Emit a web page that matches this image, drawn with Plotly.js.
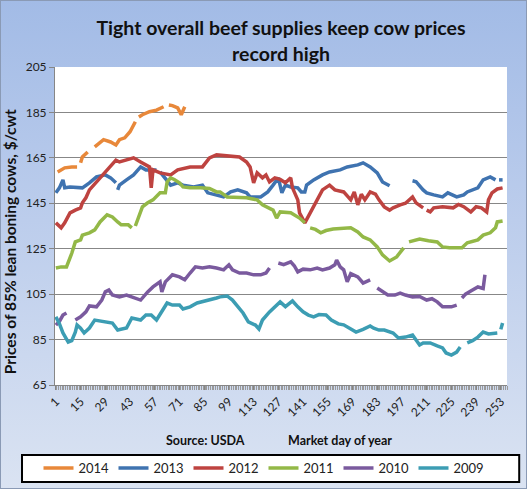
<!DOCTYPE html>
<html>
<head>
<meta charset="utf-8">
<script src="https://cdn.plot.ly/plotly-3.0.1.min.js"></script>
<style>
  html, body { margin: 0; padding: 0; }
  body { width: 527px; height: 489px; overflow: hidden;
         background: linear-gradient(to bottom, #a2bbe6 0%, #bccdec 45%, #dae3f2 100%); }
  #wrap { position: relative; width: 527px; height: 489px; }
  #chart { width: 527px; height: 489px; }
  #frame { position: absolute; left: 0; top: 0; width: 527px; height: 489px;
           box-sizing: border-box; border: 1px solid #8a9ab5; pointer-events: none; }
</style>
</head>
<body>
<div id="wrap"><div id="chart"></div><div id="frame"></div></div>
<script>
// ---- Data (market day of year, $/cwt); null = missing day (line break) ----
const days2014 = [2,6,10,13,null,15,16,19,null,23,26,28,32,35,37,40,43,46,null,48,50,54,58,62,null,65,67,70,72,74];
const vals2014 = [158.8,160.6,161,161,null,162.8,165.4,167.6,null,169.8,172,173,172,170.7,173,173.8,176.5,180.9,null,183,184,185.3,186,187.5,null,188.3,188,187,184,187.5];

const days2013 = [1,3,5,6,9,13,16,20,24,29,32,35,null,36,37,41,45,49,52,54,58,null,60,66,70,73,79,84,87,92,96,100,104,109,111,117,121,124,127,129,131,134,138,140,142,143,147,152,156,162,166,172,175,179,183,186,190,null,203,205,209,211,215,220,223,226,228,232,234,240,243,247,250,null,252,254];
const vals2013 = [149.6,151.8,155.3,151.8,152.2,151.8,151.8,154,156.6,157.5,156.2,154,null,150.9,153,155.3,157.5,161,159.7,159.7,159.7,null,158.8,153,154,153,152.2,153,149.6,148.7,147.8,150,150.9,149.6,147.8,147.8,150,153,156.2,149.6,153,152.2,151.8,150,150,153,155.3,157.5,158.8,159.7,161,161.9,162.8,161,158.4,154.4,152.7,null,154.9,154.5,150.9,149.6,148.7,147.8,149.6,148.7,147.8,148.7,150,151.8,155.3,156.6,155.3,null,155.3,155.3];

const days2012 = [1,4,6,9,12,15,16,18,20,24,28,32,35,37,41,45,49,52,54,55,56,60,66,70,72,77,84,88,92,98,105,109,111,113,115,118,120,122,125,128,131,134,135,138,139,142,145,148,149,152,156,159,164,168,170,172,174,176,179,182,184,187,190,192,196,199,203,205,209,null,211,213,215,220,226,229,232,236,239,242,245,246,248,251,254];
const vals2012 = [136.4,134.2,136.4,140.8,142,143,145.2,147.4,150.9,154.4,157.5,161,164,163.2,164,165,163.2,162,161,151.8,159.7,158.4,157.5,159.7,160,161,161,165,166.3,166,165.4,163.2,161,154,158.4,156.2,157.5,154.4,156.2,155.5,154,156.2,151.8,146.5,140.8,136.4,140.8,145.2,146.5,150.9,153,150.9,150,146.5,150,144.3,149,146.5,150,149,146.5,143.4,142,143,144.3,145,147.8,145.2,143,null,142,141.2,143,143.5,143,144.5,143.5,141.2,143.5,143,141.2,146.5,149.6,151.3,151.8];

const days2011 = [1,4,7,8,10,12,15,16,20,23,26,30,33,36,38,42,44,null,46,49,50,53,56,60,63,64,66,68,71,73,77,83,88,92,94,98,104,109,115,118,124,126,128,134,139,142,null,145,148,151,154,158,164,168,172,175,179,183,186,190,194,198,null,201,207,212,217,220,224,231,234,240,243,247,250,251,254];
const vals2011 = [116.5,117,117,118.7,123,128,128.9,131,132,133.3,136.8,139.9,139,136.8,135.5,135.5,134.2,null,135,140.8,143.4,145.2,146.5,149.6,149.6,154.4,156.2,155.5,154,152.2,151.8,151.8,151.5,150,150,147.8,147.4,147.4,146.5,144.3,142,138.5,141.2,140.8,138.5,136.4,null,134.2,133.5,132,133,133.7,134.2,134.2,132.4,130.2,128.9,125.8,122.3,119.6,121.4,125.4,null,128,129.3,128.5,128,125.8,125.4,125.4,127.6,128.9,131,132,134.2,136.8,137.2];

const days2010 = [1,3,5,7,null,12,15,18,20,24,27,29,31,33,37,41,45,49,53,56,60,61,63,67,71,74,77,80,84,88,92,96,99,101,105,109,113,117,120,122,null,127,130,134,136,138,141,145,149,152,156,159,160,162,164,166,168,172,175,179,null,183,186,189,193,196,199,203,207,211,214,217,220,225,228,null,231,233,236,240,242,243,244];
const vals2010 = [91.4,93,95.8,96.7,null,93.6,95,97.2,99.8,99.4,102.4,106,106.8,104.6,103.8,104.6,103.3,102.4,106,108.2,110.4,106,110.4,113.5,112.6,111.3,114.3,117,116.5,117,116.5,115.7,117.9,115.7,114.3,114.3,113.5,113.5,114.3,116.5,null,118.7,118,119.2,117.5,114.8,116,115.7,116.5,115.7,116.5,117.9,120,117,115.7,110.4,114,112.6,109.9,111.3,null,107.7,106,104.6,104.6,105.5,104.6,103.8,104,102.4,103,101.6,99.4,99.4,100.2,null,103.3,105,106.4,108.2,107.7,107.5,113.5];

const days2009 = [1,3,5,8,10,12,13,15,17,20,23,28,33,36,41,44,49,52,55,58,61,64,67,71,73,77,81,84,88,92,94,98,101,104,107,110,114,116,118,122,126,128,131,135,138,141,144,147,150,154,157,161,164,167,171,175,179,181,184,187,192,195,199,203,205,207,209,213,217,220,222,225,228,230,null,234,237,240,243,246,249,251,null,253,254];
const vals2009 = [95,92,87.9,83.9,84.5,88.3,91.4,90,87.9,90.1,93.6,92.8,92.3,89.2,90.1,94.5,93.6,95.8,95.8,93.6,97.2,101.1,100.2,100.2,98.5,99.4,101.1,101.6,102.4,103.3,103.8,104.2,102.4,99.4,96.7,92.8,91.4,89.7,93.6,97.2,100.2,101.6,99.5,102,99.4,97.2,95.8,95,96,95.8,93.6,91.9,91.5,90.1,88.3,89.5,91,90,89.2,89.2,87.9,85.7,86.1,87,84.8,82.6,83.5,83.5,82.2,81.3,79.1,78.2,79.5,81.7,null,83.5,84.5,86.1,88.3,87.5,87.9,87.9,null,89.5,92.3];

const seriesNames = ['2014','2013','2012','2011','2010','2009'];
const seriesColors = ['#E8883A','#3F73B0','#BE4340','#93B847','#7A5A9E','#3C9DB3'];
const xTickVals = [1,15,29,43,57,71,85,99,113,127,141,155,169,183,197,211,225,239,253];
const yTickVals = [65,85,105,125,145,165,185,205];

const allDays = [days2014, days2013, days2012, days2011, days2010, days2009];
const allVals = [vals2014, vals2013, vals2012, vals2011, vals2010, vals2009];

const font = 'Lato, "Open Sans", sans-serif';
const traces = seriesNames.map((n, i) => ({
  type: 'scatter', mode: 'lines', name: n,
  x: allDays[i], y: allVals[i], connectgaps: false,
  line: { color: seriesColors[i], width: 3.5 }
}));

const layout = {
  width: 527, height: 489,
  margin: { l: 55, r: 20, t: 67, b: 104 },
  paper_bgcolor: 'rgba(0,0,0,0)',
  plot_bgcolor: '#ffffff',
  font: { family: font, color: '#222', size: 11 },
  title: {
    text: 'Tight overall beef supplies keep cow prices<br>record high',
    font: { family: font, size: 19.5, weight: 'bold', color: '#111' },
    x: 0.5, xref: 'paper', xanchor: 'center',
    y: 0.928, yref: 'container', yanchor: 'middle'
  },
  xaxis: {
    range: [0.5, 256.5],
    tickmode: 'array', tickvals: xTickVals, ticktext: xTickVals.map(String),
    tickangle: -45, tickfont: { size: 12, family: font, color: '#222' },
    showgrid: false, zeroline: false,
    showline: true, linecolor: '#868686', linewidth: 1,
    ticks: 'outside', ticklen: 4, tickcolor: '#868686',
    minor: { dtick: 1, tick0: 0.5, ticks: 'outside', ticklen: 4, tickcolor: '#9a9a9a', showgrid: false }
  },
  yaxis: {
    range: [65, 205],
    tickmode: 'array', tickvals: yTickVals,
    tickfont: { size: 12, family: font, color: '#222' },
    showgrid: true, gridcolor: '#878787', gridwidth: 1, zeroline: false,
    showline: true, linecolor: '#868686', linewidth: 1,
    ticks: 'outside', ticklen: 5, tickcolor: '#868686'
  },
  annotations: [
    { text: 'Prices of 85% lean boning cows, $/cwt', xref: 'paper', yref: 'paper',
      x: -0.099, y: 0.45, textangle: -90, xanchor: 'center', yanchor: 'middle', showarrow: false,
      font: { family: font, size: 15.5, weight: 'bold', color: '#111' } },
    { text: 'Source: USDA', xref: 'paper', yref: 'paper', x: 0.332, y: -0.176,
      xanchor: 'center', yanchor: 'middle', showarrow: false,
      font: { family: font, size: 12.5, weight: 'bold', color: '#111' } },
    { text: 'Market day of year', xref: 'paper', yref: 'paper', x: 0.631, y: -0.176,
      xanchor: 'center', yanchor: 'middle', showarrow: false,
      font: { family: font, size: 12.5, weight: 'bold', color: '#111' } }
  ],
  shapes: [
    { type: 'rect', xref: 'paper', yref: 'paper', layer: 'above',
      x0: -0.073, x1: 1.027, y0: -0.305, y1: -0.220,
      fillcolor: 'rgba(255,255,255,1)', line: { color: '#000000', width: 2 } }
  ],
  showlegend: true,
  legend: {
    orientation: 'h', xref: 'container', yref: 'container',
    x: 0.5, xanchor: 'center', y: 0.043, yanchor: 'middle',
    bgcolor: 'rgba(0,0,0,0)', borderwidth: 0,
    entrywidth: 30, entrywidthmode: 'pixels',
    font: { family: font, size: 13, color: '#222' }
  }
};

Plotly.newPlot('chart', traces, layout, { displayModeBar: false, staticPlot: true });
</script>
</body>
</html>
